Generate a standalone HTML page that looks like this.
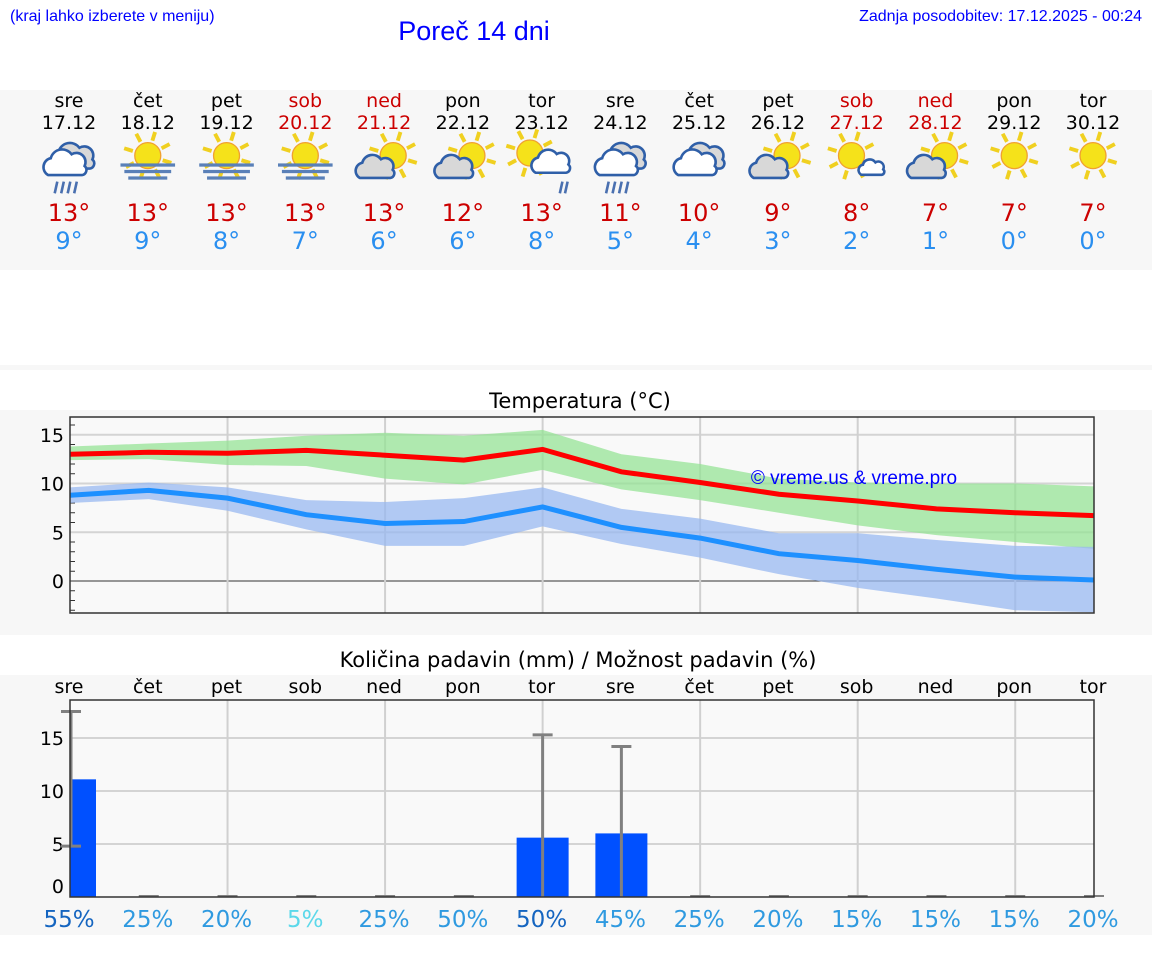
<!DOCTYPE html>
<html><head><meta charset="utf-8"><style>
body{margin:0;width:1152px;height:975px;background:#fff;overflow:hidden;font-family:"DejaVu Sans","Liberation Sans",sans-serif}
svg{position:absolute;left:0;top:0}
</style></head><body>
<svg id="s" width="1152" height="975">
<text x="10" y="21" font-family="Liberation Sans, sans-serif" font-size="16" fill="#0000ff">(kraj lahko izberete v meniju)</text>
<text x="474" y="40" text-anchor="middle" font-family="Liberation Sans, sans-serif" font-size="27" fill="#0000ff">Poreč 14 dni</text>
<text x="1142" y="21" text-anchor="end" font-family="Liberation Sans, sans-serif" font-size="16" fill="#0000ff">Zadnja posodobitev: 17.12.2025 - 00:24</text>
<rect x="0" y="90" width="1152" height="180" fill="#f7f7f7"/>
<rect x="0" y="365" width="1152" height="5" fill="#f7f7f7"/>
<rect x="0" y="410" width="1152" height="225" fill="#f7f7f7"/>
<text x="580" y="408" text-anchor="middle" font-size="21" fill="#000">Temperatura (°C)</text>
<rect x="0" y="675" width="1152" height="260" fill="#f7f7f7"/>
<text x="578" y="667" text-anchor="middle" font-size="21" fill="#000">Količina padavin (mm) / Možnost padavin (%)</text>
<g id="g"></g>
</svg>
<script>
const days=["sre","čet","pet","sob","ned","pon","tor","sre","čet","pet","sob","ned","pon","tor"];
const dates=["17.12","18.12","19.12","20.12","21.12","22.12","23.12","24.12","25.12","26.12","27.12","28.12","29.12","30.12"];
const weekend=[0,0,0,1,1,0,0,0,0,0,1,1,0,0];
const icons=["rain","fog","fog","fog","sunCloud","sunCloud","sunRain","rain","clouds","sunCloud","sunSmall","sunCloud","sun","sun"];
const tMaxDay=[13,13,13,13,13,12,13,11,10,9,8,7,7,7];
const tMinDay=[9,9,8,7,6,6,8,5,4,3,2,1,0,0];
const tMax=[13.0,13.2,13.1,13.4,12.9,12.4,13.5,11.2,10.1,8.9,8.2,7.4,7.0,6.7];
const tMaxHi=[13.8,14.1,14.4,14.9,15.2,14.9,15.5,13.0,12.0,10.5,10.1,10.0,10.0,9.7];
const tMaxLo=[12.4,12.5,11.9,11.8,10.5,9.9,11.4,9.4,8.3,7.0,5.7,4.7,4.0,3.3];
const tMin=[8.8,9.3,8.5,6.8,5.9,6.1,7.6,5.5,4.4,2.8,2.1,1.2,0.4,0.1];
const tMinHi=[9.6,10.1,9.6,8.3,8.1,8.5,9.6,7.4,6.4,4.9,4.9,4.2,3.6,3.5];
const tMinLo=[8.0,8.4,7.2,5.3,3.6,3.6,5.6,3.8,2.4,0.7,-0.7,-1.8,-3.0,-3.2];
const tTicks=[0,5,10,15];
const precip=[11.1,0,0,0,0,0,5.6,6.0,0,0,0,0,0,0];
const precipHi=[17.5,0,0,0,0,0,15.3,14.2,0,0,0,0,0,0];
const precipLo=[4.8,0,0,0,0,0,0,0,0,0,0,0,0,0];
const chance=[55,25,20,5,25,50,50,45,25,20,15,15,15,20];
const pTicks=[0,5,10,15];

const NS="http://www.w3.org/2000/svg",G=document.getElementById('g');
function mk(t,a,p){const e=document.createElementNS(NS,t);for(const k in a)e.setAttribute(k,a[k]);(p||G).appendChild(e);return e;}
const X0=70,X1=1094;
const x=i=>X0+i*(X1-X0)/13;
const ty=v=>581-v*9.75;
const py=v=>897-v*10.6;

days.forEach((d,i)=>{
  const c=weekend[i]?"#cc0000":"#000";
  let e=mk('text',{x:x(i)-1,y:107,'text-anchor':'middle','font-size':19,fill:c});e.textContent=d;
  
  
  e=mk('text',{x:x(i)-1,y:129,'text-anchor':'middle','font-size':19,fill:c});e.textContent=dates[i];
  
  
  e=mk('text',{x:x(i)-1,y:221,'text-anchor':'middle','font-size':24,fill:"#cc0000"});e.textContent=tMaxDay[i]+"°";
  
  
  e=mk('text',{x:x(i)-1,y:249,'text-anchor':'middle','font-size':24,fill:"#2a8ff0"});e.textContent=tMinDay[i]+"°";
  
  
  const g=mk('g',{transform:`translate(${x(i)-1},166) scale(1.3)`});
  
  
  drawIcon(g,icons[i]);
});
function sun(g,cx,cy,r){
  for(let k=0;k<8;k++){const a=k*Math.PI/4+0.3;mk('line',{x1:cx+Math.cos(a)*(r+2),y1:cy+Math.sin(a)*(r+2),x2:cx+Math.cos(a)*(r+9),y2:cy+Math.sin(a)*(r+9),stroke:"#f0d020","stroke-width":3},g);}
  mk('circle',{cx,cy,r,fill:"#f5e21a",stroke:"#f0a030","stroke-width":1},g);
}
function cloud(g,cx,cy,s,fill){
  const p=`M${cx-14*s},${cy+8*s} a${7*s},${7*s} 0 0 1 ${2*s},${-13*s} a${9*s},${9*s} 0 0 1 ${16*s},${-3*s} a${7*s},${7*s} 0 0 1 ${10*s},${9*s} a${4*s},${4*s} 0 0 1 ${-2*s},${7*s} Z`;
  mk('path',{d:p,fill:fill,stroke:"#2f5fa8","stroke-width":2},g);
}
function drawIcon(g,t){
  if(t=="rain"){cloud(g,4,-6,1,"#d8d8d8");cloud(g,-2,-1,1,"#fff");rainL(g);}
  if(t=="clouds"){cloud(g,4,-6,1,"#d8d8d8");cloud(g,-2,-1,1,"#fff");}
  if(t=="fog"){sun(g,0,-8,10);[[-21,21,-1],[-18,18,4],[-15,15,9]].forEach(a=>mk('rect',{x:a[0],y:a[2]-1,width:a[1]-a[0],height:2.5,fill:"#5a80b8"},g));}
  if(t=="sunCloud"){sun(g,7,-8,10);cloud(g,-6,2,0.9,"#d8d8d8");}
  if(t=="sunRain"){sun(g,-9,-10,10);cloud(g,8,-2,0.9,"#fff");mk('line',{x1:16,y1:12,x2:14,y2:21,stroke:"#4a70b0","stroke-width":2},g);mk('line',{x1:20,y1:12,x2:18,y2:21,stroke:"#4a70b0","stroke-width":2},g);}
  if(t=="sunSmall"){sun(g,-4,-8,10);cloud(g,12,2,0.6,"#fff");}
  if(t=="sun"){sun(g,0,-8,10);}
}
function rainL(g){[-10,-5,0,5].forEach(d=>mk('line',{x1:d+1,y1:12,x2:d-1,y2:21,stroke:"#4a70b0","stroke-width":2},g));}

mk('rect',{x:X0,y:417,width:X1-X0,height:196,fill:"#f9f9f9"});
for(let v=-3;v<=16;v++){if(v%5)mk('line',{x1:X0,x2:X0+5,y1:ty(v),y2:ty(v),stroke:"#333"});}
tTicks.forEach(v=>{
  mk('line',{x1:X0,x2:X1,y1:ty(v),y2:ty(v),stroke:v==0?"#333":"#d4d4d4","stroke-width":v==0?1:2});
  const e=mk('text',{x:64,y:ty(v)+7,'text-anchor':'end','font-size':19});e.textContent=v;
  
  
});
for(let i=2;i<13;i+=2)mk('line',{x1:x(i),x2:x(i),y1:417,y2:613,stroke:"#d0d0d0","stroke-width":2});
function band(hi,lo,col,name){
  let d="M"+hi.map((v,i)=>x(i)+","+ty(v)).join("L")+"L"+lo.map((v,i)=>x(i)+","+ty(v)).reverse().join("L")+"Z";
  const e=mk('path',{d,fill:col,opacity:0.75});
  
  
}
function line(v,col,name){
  const e=mk('polyline',{points:v.map((a,i)=>x(i)+","+ty(a)).join(" "),fill:"none",stroke:col,"stroke-width":5});
  
  
}
band(tMaxHi,tMaxLo,"#96e396","max-temp-range");
band(tMinHi,tMinLo,"#98b8f0","min-temp-range");
line(tMax,"#ff0000","max-temp-line");
line(tMin,"#1e90ff","min-temp-line");
let wm=mk('text',{x:854,y:484,'text-anchor':'middle','font-size':19,fill:"#0000ff",'font-family':"Liberation Sans, sans-serif"});wm.textContent="© vreme.us & vreme.pro";


mk('rect',{x:X0,y:417,width:X1-X0,height:196,fill:"none",stroke:"#333","stroke-width":1.5});

mk('rect',{x:X0,y:700,width:X1-X0,height:197,fill:"#f9f9f9"});
pTicks.forEach(v=>{
  if(v>0)mk('line',{x1:X0,x2:X1,y1:py(v),y2:py(v),stroke:"#d4d4d4","stroke-width":2});
  const e=mk('text',{x:64,y:py(v)+(v==0?-4:7),'text-anchor':'end','font-size':19});e.textContent=v;
  
  
});
for(let i=2;i<13;i+=2)mk('line',{x1:x(i),x2:x(i),y1:700,y2:897,stroke:"#d0d0d0","stroke-width":2});
days.forEach((d,i)=>{
  const e=mk('text',{x:x(i)-1,y:693,'text-anchor':'middle','font-size':19});e.textContent=d;
  
  
});
precip.forEach((v,i)=>{
  if(v>0){const x0=Math.max(X0,x(i)-26),x1=Math.min(X1,x(i)+26);
    const b=mk('rect',{x:x0,y:py(v),width:x1-x0,height:py(0)-py(v),fill:"#0050ff"});
    
    }
  const xc=i==0?X0+1:x(i);
  if(precipHi[i]>0){
    const l=mk('line',{x1:xc,x2:xc,y1:py(precipHi[i]),y2:py(precipLo[i]),stroke:"#808080","stroke-width":3});
    
    
    mk('line',{x1:xc-10,x2:xc+10,y1:py(precipHi[i]),y2:py(precipHi[i]),stroke:"#808080","stroke-width":3});
    if(precipLo[i]>0)mk('line',{x1:xc-10,x2:xc+10,y1:py(precipLo[i]),y2:py(precipLo[i]),stroke:"#808080","stroke-width":3});
  } else mk('line',{x1:xc-10,x2:xc+10,y1:py(0)-1,y2:py(0)-1,stroke:"#808080","stroke-width":2});
});
mk('rect',{x:X0,y:700,width:X1-X0,height:197,fill:"none",stroke:"#333","stroke-width":1.5});
chance.forEach((c,i)=>{
  const col=c<10?"#5cd8ea":(c>=50&&i!=5||c==55)?"#1565c0":"#2f9ae0";
  const e=mk('text',{x:x(i)-1,y:927,'text-anchor':'middle','font-size':23,fill:col});e.textContent=c+"%";
  
  
});
</script>
</body></html>
